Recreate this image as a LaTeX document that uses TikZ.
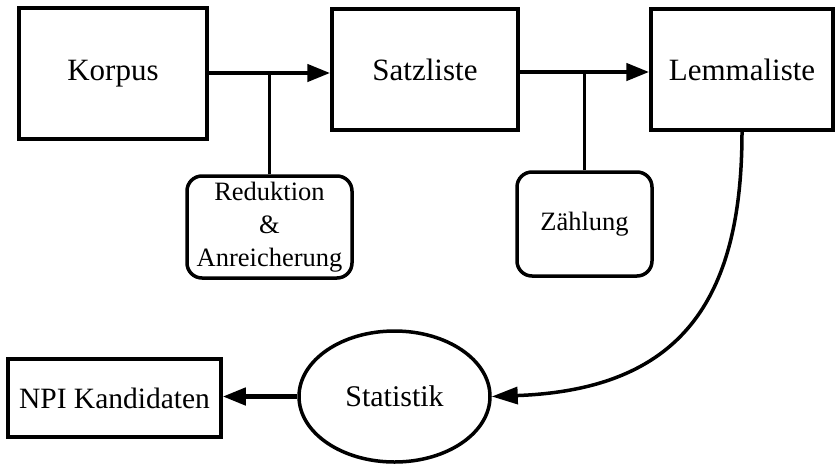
\documentclass[tikz,border=0pt]{standalone}
\usepackage{fontspec}
\setmainfont{Liberation Serif}
\usetikzlibrary{shapes.geometric,arrows.meta}
\begin{document}
\begin{tikzpicture}[x=1pt,y=-1pt,
  box/.style={draw=black,line width=3.5pt,rectangle,inner sep=0pt,fill=white,
    font=\fontsize{31}{37}\selectfont},
  rbox/.style={draw=black,line width=3.5pt,rectangle,rounded corners=15pt,inner sep=0pt,
    align=center,font=\fontsize{26.5}{33}\selectfont},
  ell/.style={draw=black,line width=3.5pt,ellipse,inner sep=0pt,
    font=\fontsize{30}{36}\selectfont},
  flow/.style={line width=4.5pt,-{Triangle[length=23pt,width=17pt]}},
  tap/.style={line width=3.5pt},
  curvearrow/.style={line width=3.5pt,-{Triangle[length=26pt,width=17pt]}}]
\useasboundingbox (0,0) rectangle (835,464);
\node[box,minimum width=188pt,minimum height=131pt] (korpus) at (113,73.5) {Korpus};
\node[box,minimum width=186pt,minimum height=121pt] (satz) at (425,69.5) {Satzliste};
\node[box,minimum width=182pt,minimum height=121pt] (lemma) at (742,69.5) {Lemmaliste};
\node[rbox,minimum width=165pt,minimum height=102pt] (red) at (269.5,227) {Reduktion\\\&\\Anreicherung};
\node[rbox,minimum width=135pt,minimum height=104pt] (zaehl) at (584.5,224) {Zählung};
\node[box,minimum width=213pt,minimum height=78pt,font=\fontsize{29.5}{35}\selectfont] (npi) at (114.5,398) {NPI Kandidaten};
\node[ell,minimum width=191pt,minimum height=131pt] (stat) at (394.5,396.5) {Statistik};
\coordinate (j1) at (red.north |- 0,73);
\coordinate (j2) at (zaehl.north |- 0,72);
\draw[flow] (korpus.east |- j1) -- (satz.west |- j1);
\draw[flow] (satz.east |- j2) -- (lemma.west |- j2);
\draw[tap] (red.north) -- (j1);
\draw[tap] (zaehl.north) -- (j2);
\draw[curvearrow] (lemma.south) .. controls +(0,170) and +(188,-7) .. (stat.east);
\draw[flow] (stat.west) -- (npi.east |- stat.west);
\end{tikzpicture}
\end{document}
